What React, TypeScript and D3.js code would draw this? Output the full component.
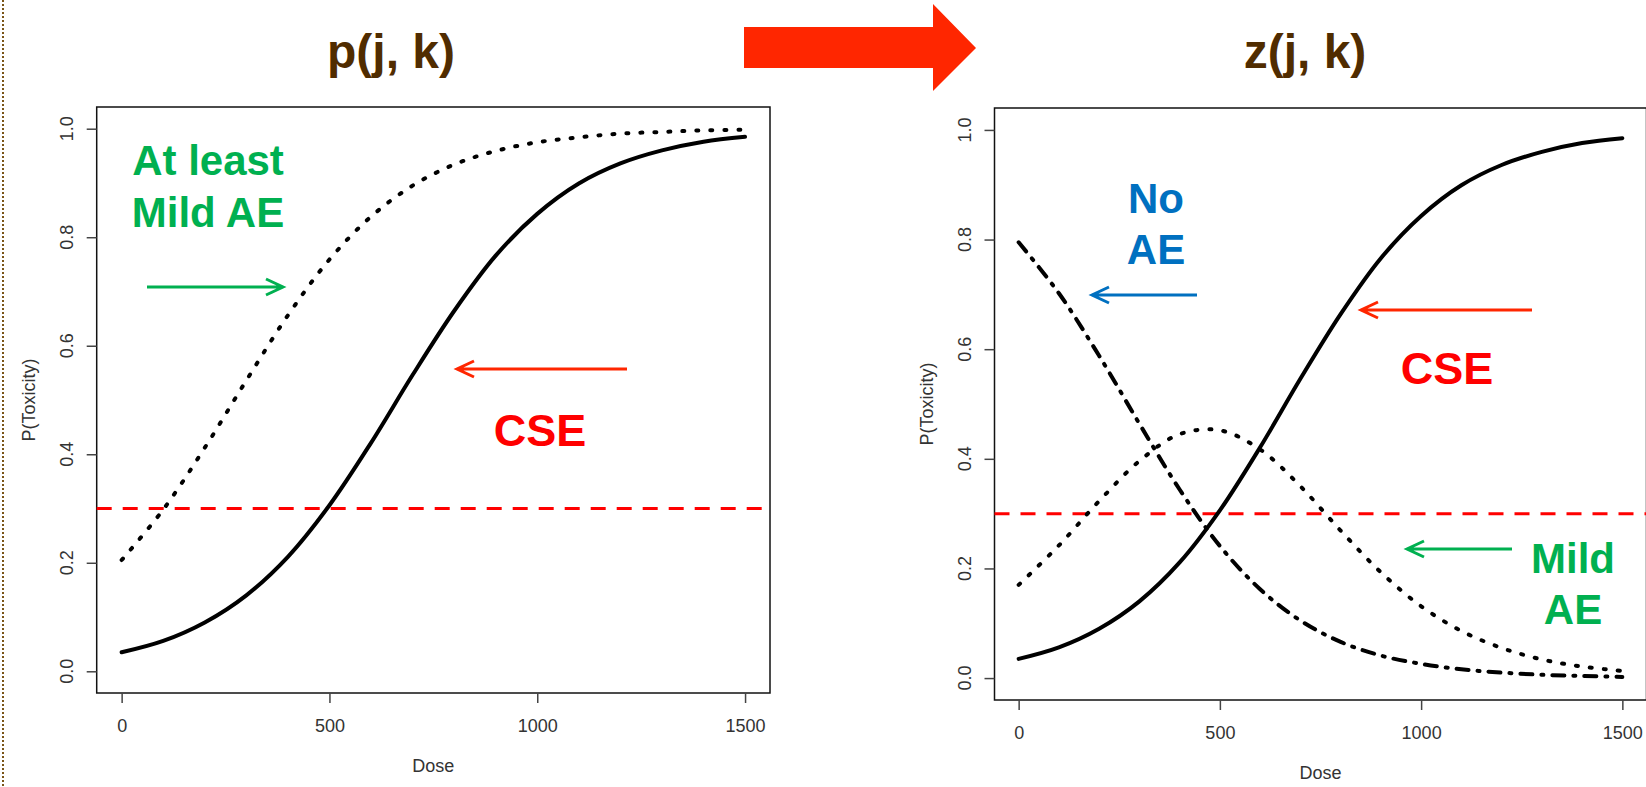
import React, { useEffect, useRef } from 'react';
import * as d3 from 'd3';

// dose grid and the curves
const doses = [0, 100, 200, 300, 400, 500, 600, 700, 800, 900, 1000, 1100, 1200, 1300, 1400, 1500];
const cseProb = [0.035, 0.056, 0.090, 0.140, 0.211, 0.306, 0.421, 0.546, 0.664, 0.766, 0.843, 0.899, 0.936, 0.960, 0.976, 0.985];
const atLeastMildProb = [0.205, 0.298, 0.412, 0.536, 0.656, 0.759, 0.838, 0.895, 0.934, 0.959, 0.975, 0.984, 0.991, 0.994, 0.997, 0.998];
const mildProb = [0.170, 0.242, 0.323, 0.396, 0.445, 0.452, 0.417, 0.350, 0.269, 0.193, 0.131, 0.086, 0.055, 0.034, 0.021, 0.013];
const noAEProb = [0.795, 0.702, 0.588, 0.464, 0.344, 0.241, 0.162, 0.105, 0.066, 0.041, 0.026, 0.016, 0.010, 0.006, 0.004, 0.002];

const xTicks = [0, 500, 1000, 1500];
const yTicks = [0, 0.2, 0.4, 0.6, 0.8, 1.0];
const threshold = 0.3;

const FONT = '"Liberation Sans", Arial, sans-serif';

const drawPanel = (svg, box, series) => {
  const x = d3.scaleLinear().domain([-60, 1560]).range([box.left, box.right]);
  const y = d3.scaleLinear().domain([-0.04, 1.04]).range([box.bottom, box.top]);
  const g = svg.append('g');

  // plot box
  g.append('rect')
    .attr('x', box.left)
    .attr('y', box.top)
    .attr('width', box.right - box.left)
    .attr('height', box.bottom - box.top)
    .attr('fill', 'none')
    .attr('stroke', '#111')
    .attr('stroke-width', 1.5);

  // x axis
  const xAxis = g
    .append('g')
    .attr('transform', 'translate(0,' + box.bottom + ')')
    .call(d3.axisBottom(x).tickValues(xTicks).tickSize(10).tickPadding(16).tickFormat(d3.format('d')));
  xAxis.select('.domain').remove();
  xAxis.selectAll('line').attr('stroke', '#444').attr('stroke-width', 1.5);
  xAxis.selectAll('text').attr('font-family', FONT).attr('font-size', 18).attr('fill', '#333');

  // y axis, labels rotated like R's default
  const yAxis = g
    .append('g')
    .attr('transform', 'translate(' + box.left + ',0)')
    .call(d3.axisLeft(y).tickValues(yTicks).tickSize(10).tickFormat(() => ''));
  yAxis.select('.domain').remove();
  yAxis.selectAll('line').attr('stroke', '#444').attr('stroke-width', 1.5);
  g.selectAll('.ylab')
    .data(yTicks)
    .enter()
    .append('text')
    .attr('transform', d => 'translate(' + (box.left - 30) + ',' + y(d) + ') rotate(-90)')
    .attr('text-anchor', 'middle')
    .attr('dominant-baseline', 'central')
    .attr('font-family', FONT)
    .attr('font-size', 18)
    .attr('fill', '#333')
    .text(d3.format('.1f'));

  g.append('text')
    .attr('x', (x(0) + x(1500)) / 2)
    .attr('y', box.bottom + 79)
    .attr('text-anchor', 'middle')
    .attr('font-family', FONT)
    .attr('font-size', 18)
    .attr('fill', '#333')
    .text('Dose');

  g.append('text')
    .attr('transform', 'translate(' + (box.left - 68) + ',' + (box.top + box.bottom) / 2 + ') rotate(-90)')
    .attr('text-anchor', 'middle')
    .attr('dominant-baseline', 'central')
    .attr('font-family', FONT)
    .attr('font-size', 18)
    .attr('fill', '#333')
    .text('P(Toxicity)');

  // threshold line
  g.append('line')
    .attr('x1', box.left)
    .attr('x2', box.right)
    .attr('y1', y(threshold))
    .attr('y2', y(threshold))
    .attr('stroke', '#ff0000')
    .attr('stroke-width', 3)
    .attr('stroke-dasharray', '15 11');

  const line = d3
    .line()
    .x((d, i) => x(doses[i]))
    .y(d => y(d))
    .curve(d3.curveCatmullRom);

  series.forEach(s => {
    g.append('path')
      .attr('d', line(s.values))
      .attr('fill', 'none')
      .attr('stroke', '#000')
      .attr('stroke-width', 4)
      .attr('stroke-linecap', 'round')
      .attr('stroke-dasharray', s.dash || null);
  });
};

const arrow = (svg, x1, x2, yy, color) => {
  const dir = x2 > x1 ? 1 : -1;
  svg
    .append('path')
    .attr('d', `M${x1},${yy}L${x2},${yy}M${x2 - dir * 17},${yy - 8}L${x2},${yy}L${x2 - dir * 17},${yy + 8}`)
    .attr('fill', 'none')
    .attr('stroke', color)
    .attr('stroke-width', 3);
};

const label = (svg, lines, cx, baseline, color, size, step) => {
  lines.forEach((t, i) => {
    svg
      .append('text')
      .attr('x', cx)
      .attr('y', baseline + i * step)
      .attr('text-anchor', 'middle')
      .attr('font-family', FONT)
      .attr('font-weight', 'bold')
      .attr('font-size', size)
      .attr('fill', color)
      .text(t);
  });
};

const drawChart = node => {
  const svg = d3.select(node);
  svg.selectAll('*').remove();

  // dotted slide border on the left
  svg.append('line')
    .attr('x1', 3).attr('x2', 3).attr('y1', 0).attr('y2', 787)
    .attr('stroke', '#7a5518').attr('stroke-width', 2).attr('stroke-dasharray', '2 2');

  // titles
  label(svg, ['p(j, k)'], 391, 68, '#502c00', 48, 0);
  label(svg, ['z(j, k)'], 1305, 68, '#502c00', 48, 0);

  // block arrow between the titles
  svg.append('polygon')
    .attr('points', '744,27 933,27 933,4 976,48 933,91 933,68 744,68')
    .attr('fill', '#ff2600');

  drawPanel(svg, { left: 96.7, right: 770, top: 107, bottom: 693 }, [
    { values: atLeastMildProb, dash: '2 12' },
    { values: cseProb }
  ]);

  drawPanel(svg, { left: 994.5, right: 1646.5, top: 108, bottom: 700 }, [
    { values: noAEProb, dash: '12 9 2 9' },
    { values: mildProb, dash: '2 12' },
    { values: cseProb }
  ]);

  // left annotations
  label(svg, ['At least', 'Mild AE'], 208, 175, '#00b050', 42, 52);
  arrow(svg, 147, 283, 287, '#00b050');
  arrow(svg, 627, 457, 369, '#ff2600');
  label(svg, ['CSE'], 540, 446, '#ff0000', 45, 0);

  // right annotations
  label(svg, ['No', 'AE'], 1156, 213, '#0070c0', 42, 51);
  arrow(svg, 1197, 1092, 295, '#0070c0');
  arrow(svg, 1532, 1361, 310, '#ff2600');
  label(svg, ['CSE'], 1447, 384, '#ff0000', 45, 0);
  arrow(svg, 1512, 1407, 549, '#00b050');
  label(svg, ['Mild', 'AE'], 1573, 573, '#00b050', 42, 51);
};

export default function App() {
  const ref = useRef(null);
  useEffect(() => {
    drawChart(ref.current);
  }, []);
  return (
    <svg
      ref={ref}
      width={1646}
      height={787}
      style={{ position: 'absolute', left: 0, top: 0, background: '#fff' }}
    />
  );
}
